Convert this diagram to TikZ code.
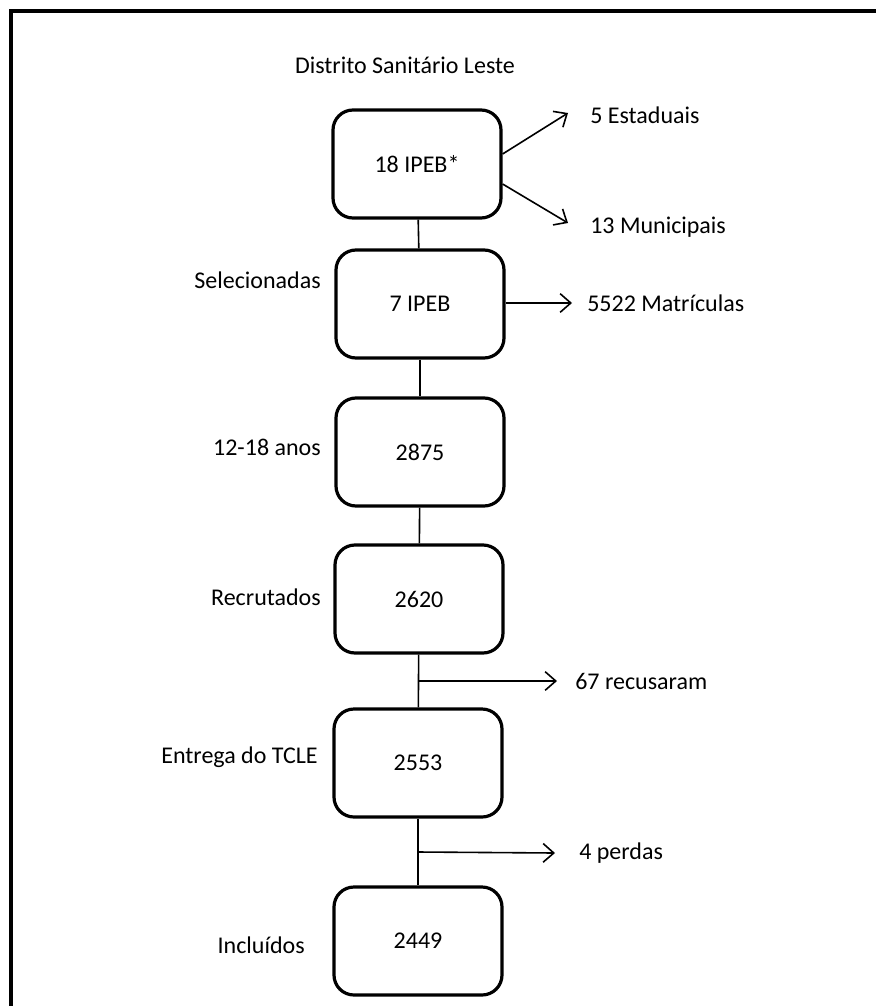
\documentclass[tikz,border=0pt]{standalone}
\usepackage{fontspec}
\setmainfont{Carlito}
\usetikzlibrary{arrows.meta,calc}

\begin{document}
\begin{tikzpicture}[
        x=0.75pt, y=-0.75pt,
        every node/.style={font=\fontsize{18pt}{20pt}\selectfont, inner sep=0pt},
        stage/.style={rectangle, rounded corners=15pt, draw, line width=2.4pt, minimum width=126pt, minimum height=81pt},
        link/.style={line width=1.2pt},
        branch/.style={line width=1.2pt, -{Straight Barb[length=8pt, width=14pt, line width=1.2pt]}},
        frame/.style={line width=3pt}]
        \useasboundingbox (0,0) rectangle (876,1006);
        \draw[frame] (11,1006) -- (11,11) -- (876,11);
        \node (dist) at (405,65) {Distrito Sanit\'ario Leste};
        \node[stage] (b1) at (417,164) {18 IPEB*};
        \node[stage] (b2) at (420,304) {7 IPEB};
        \node[stage] (b3) at (420,452) {2875};
        \node[stage] (b4) at (419,599) {2620};
        \node[stage] (b5) at (418,763) {2553};
        \node[stage] (b6) at (418,941) {2449};
        \node[anchor=east] (l2) at (321,280) {Selecionadas};
        \node[anchor=east] (l3) at (321,447) {12-18 anos};
        \node[anchor=east] (l4) at (321,597) {Recrutados};
        \node[anchor=east] (l5) at (318,757) {Entrega do TCLE};
        \node[anchor=east] (l6) at (305,945) {Inclu\'idos};
        \node[anchor=west] (est) at (590,115) {5 Estaduais};
        \node[anchor=west] (mun) at (590,227) {13 Municipais};
        \node[anchor=west] (mat) at (587,303) {5522 Matr\'iculas};
        \node[anchor=west] (rec) at (575,681) {67 recusaram};
        \node[anchor=west] (per) at (579,853) {4 perdas};
        \coordinate (e1) at (568,113);
        \coordinate (e2) at (568,223);
        \coordinate (j1) at ($(b4.south)!0.5!(b5.north)$);
        \coordinate (j2) at ($(b5.south)!0.5!(b6.north)$);
        \draw[link] (b1) -- (b2);
        \draw[link] (b2) -- (b3);
        \draw[link] (b3) -- (b4);
        \draw[link] (b4) -- (b5);
        \draw[link] (b5) -- (b6);
        \draw[branch] ($(b1.east)+(0,-10)$) -- (e1);
        \draw[branch] ($(b1.east)+(0,20)$) -- (e2);
        \draw[branch] (b2.east |- mat) -- ($(mat.west)+(-15,0)$);
        \draw[branch] (j1) -- ($(rec.west)+(-18,0)$);
        \draw[branch] (j2) -- ($(per.west)+(-24,0)$);
    \end{tikzpicture}
\end{document}
